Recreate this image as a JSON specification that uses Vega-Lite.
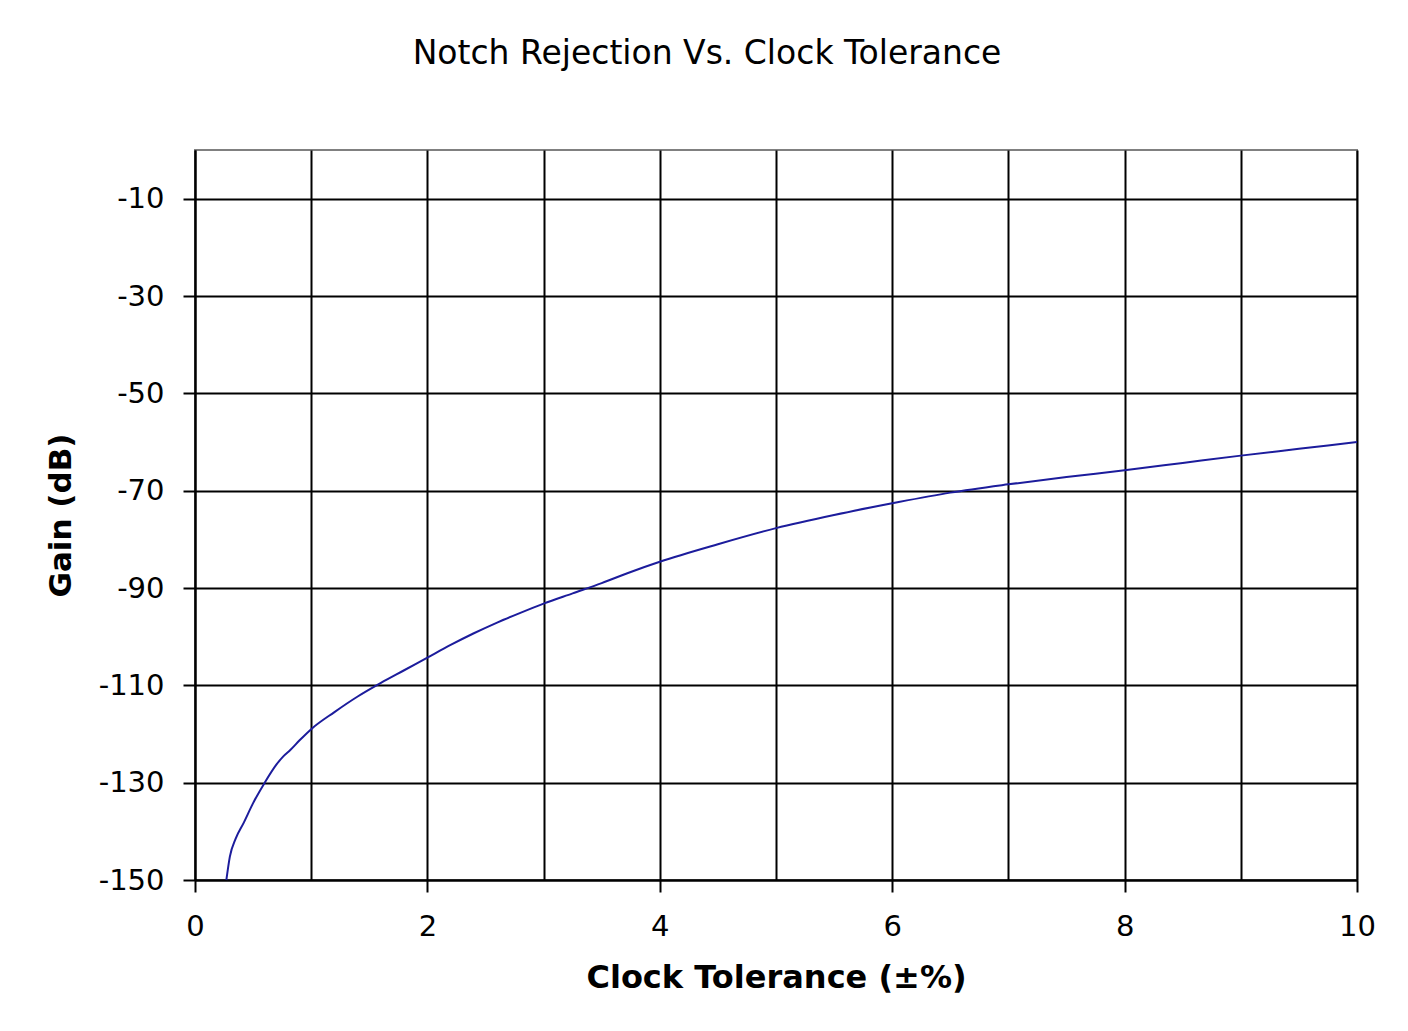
{
  "$schema": "https://vega.github.io/schema/vega-lite/v6.json",
  "width": 1162,
  "height": 730,
  "autosize": {"type": "none"},
  "padding": {"left": 195, "top": 150, "right": 51, "bottom": 151},
  "background": "white",
  "title": {
    "text": "Notch Rejection Vs. Clock Tolerance",
    "font": "DejaVu Sans",
    "fontSize": 33,
    "fontWeight": "normal",
    "color": "black",
    "offset": 79,
    "dx": -69,
    "anchor": "middle"
  },
  "data": {
    "values": [
      {"tol": 0.27, "gain": -150},
      {"tol": 0.30, "gain": -145.2},
      {"tol": 0.35, "gain": -141.5},
      {"tol": 0.42, "gain": -138.2},
      {"tol": 0.50, "gain": -134.2},
      {"tol": 0.60, "gain": -130},
      {"tol": 0.70, "gain": -126.3},
      {"tol": 0.76, "gain": -124.6},
      {"tol": 0.82, "gain": -123.3},
      {"tol": 0.90, "gain": -121.3},
      {"tol": 1.0, "gain": -119},
      {"tol": 1.2, "gain": -115.5},
      {"tol": 1.4, "gain": -112.3},
      {"tol": 1.6, "gain": -109.5},
      {"tol": 1.8, "gain": -106.9},
      {"tol": 2.0, "gain": -104.3},
      {"tol": 2.2, "gain": -101.7},
      {"tol": 2.4, "gain": -99.3},
      {"tol": 2.6, "gain": -97.1},
      {"tol": 2.8, "gain": -95.1},
      {"tol": 3.0, "gain": -93.2},
      {"tol": 3.25, "gain": -91.1},
      {"tol": 3.5, "gain": -89},
      {"tol": 3.75, "gain": -86.7},
      {"tol": 4.0, "gain": -84.6},
      {"tol": 4.5, "gain": -81},
      {"tol": 5.0, "gain": -77.7},
      {"tol": 5.5, "gain": -75},
      {"tol": 6.0, "gain": -72.6},
      {"tol": 6.5, "gain": -70.4},
      {"tol": 7.0, "gain": -68.7},
      {"tol": 7.5, "gain": -67.2},
      {"tol": 8.0, "gain": -65.8},
      {"tol": 8.5, "gain": -64.3},
      {"tol": 9.0, "gain": -62.8},
      {"tol": 9.5, "gain": -61.4},
      {"tol": 10.0, "gain": -60}
    ]
  },
  "mark": {"type": "line", "color": "#1c1c9c", "strokeWidth": 2, "interpolate": "monotone"},
  "encoding": {
    "x": {
      "field": "tol",
      "type": "quantitative",
      "scale": {"domain": [0, 10], "nice": false, "zero": false},
      "axis": {
        "title": "Clock Tolerance (±%)",
        "values": [0, 1, 2, 3, 4, 5, 6, 7, 8, 9, 10],
        "labelExpr": "datum.value % 2 == 0 ? '' + datum.value : ''",
        "tickColor": {"condition": {"test": "datum.value % 2 == 1", "value": "transparent"}, "value": "black"},
        "labelPadding": 20,
        "titlePadding": 21,
        "titleFontSize": 32
      }
    },
    "y": {
      "field": "gain",
      "type": "quantitative",
      "scale": {"domain": [-150, 0], "nice": false, "zero": false},
      "axis": {
        "title": "Gain (dB)",
        "values": [-150, -130, -110, -90, -70, -50, -30, -10],
        "labelExpr": "'' + datum.value",
        "labelPadding": 19,
        "titlePadding": 21,
        "titleFontSize": 31
      }
    }
  },
  "config": {
    "view": {"stroke": "#808080", "strokeWidth": 2},
    "axis": {
      "grid": true,
      "gridColor": "black",
      "gridWidth": 2,
      "gridOpacity": 1,
      "domainColor": "black",
      "domainWidth": 2,
      "tickColor": "black",
      "tickWidth": 2,
      "tickSize": 12,
      "labelFont": "DejaVu Sans",
      "labelFontSize": 29,
      "labelColor": "black",
      "labelOverlap": false,
      "labelFlush": false,
      "titleFont": "DejaVu Sans",
      "titleFontWeight": "bold",
      "titleColor": "black"
    }
  }
}
